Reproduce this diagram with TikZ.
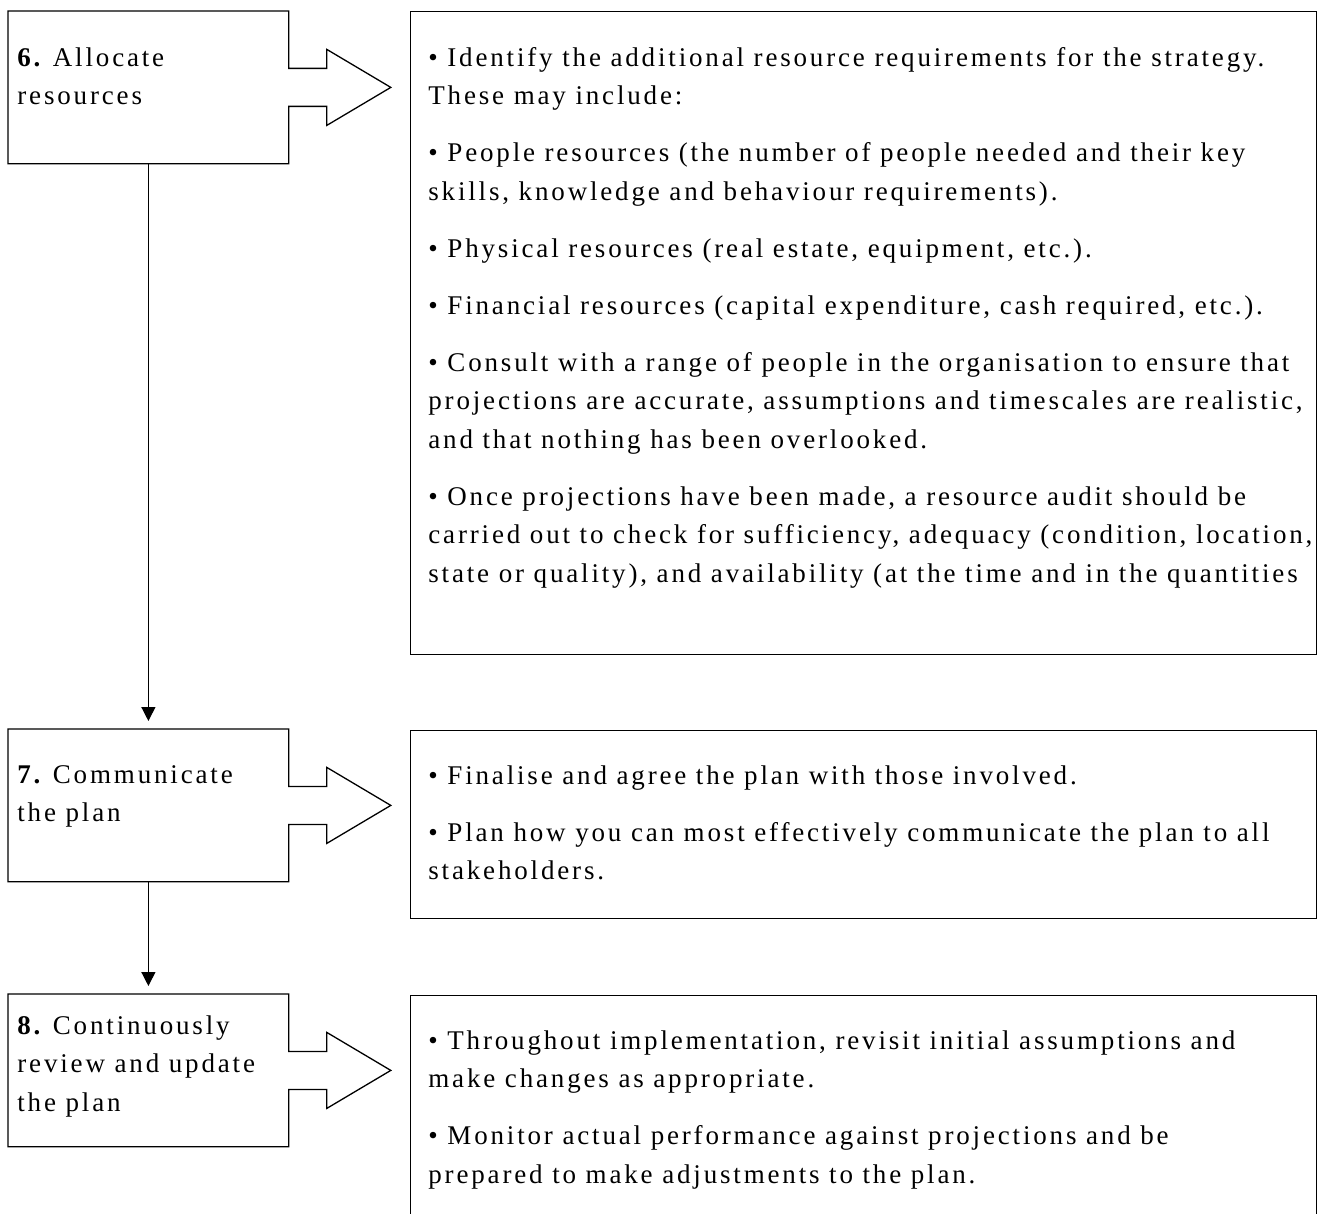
\documentclass[tikz,border=0pt]{standalone}
\usepackage{fontspec}
\setmainfont[LetterSpace=10.5]{Liberation Serif}
\usepackage{tikz}
\usetikzlibrary{arrows.meta,positioning}
\frenchspacing

% outline of a step box with its notched arrow pointing right
\newcommand{\stepoutline}[1]{%
  \draw[line width=0.65pt] ([yshift=9.5pt]#1.east) |- (#1.north west) |- (#1.south east)
    -- ([yshift=-9.5pt]#1.east) -- ++(38,0) -- ++(0,19) -- ++(64,-38) -- ++(-64,-38) -- ++(0,19) -- cycle;}

\begin{document}
\begin{tikzpicture}[
  x=0.5pt, y=-0.5pt,
  every node/.style={font=\fontsize{13.5}{19.25}\selectfont, align=left, inner sep=0pt},
  stepbox/.style={minimum width=140pt, minimum height=76pt, anchor=north west},
  notebox/.style={draw, line width=0.65pt, minimum width=453pt, anchor=north west},
  flow/.style={-{Triangle[width=7pt,length=7pt]}, line width=0.65pt, shorten >=4pt}
]
  \useasboundingbox (0,0) rectangle (1317,1214);
  \clip (0,0) rectangle (1317,1214);

  % Nodes
  \node (step6) [stepbox] at (8,11) {};
  \node (step7) [stepbox] at (8,729) {};
  \node (step8) [stepbox] at (8,994) {};

  \node (res_box) [notebox, minimum height=321.5pt] at (410,11) {};
  \node (comm_box) [notebox, minimum height=94pt] at (410,730) {};
  \node (review_box) [notebox, minimum height=150pt] at (410,995) {};

  \node (step6_text) [anchor=north west] at ([shift={(9,36)}]step6.north west)
    {\textbf{6.} Allocate\\resources};
  \node (step7_text) [anchor=north west] at ([shift={(9,36)}]step7.north west)
    {\textbf{7.} Communicate\\the plan};
  \node (step8_text) [anchor=north west] at ([shift={(9,21)}]step8.north west)
    {\textbf{8.} Continuously\\review and update\\the plan};

  \node (res_text) [anchor=north west] at ([shift={(18,36)}]res_box.north west)
    {• Identify the additional resource requirements for the strategy.\\
     These may include:\\[9.25pt]
     • People resources (the number of people needed and their key\\
     skills, knowledge and behaviour requirements).\\[9.25pt]
     • Physical resources (real estate, equipment, etc.).\\[9.25pt]
     • Financial resources (capital expenditure, cash required, etc.).\\[9.25pt]
     • Consult with a range of people in the organisation to ensure that\\
     projections are accurate, assumptions and timescales are realistic,\\
     and that nothing has been overlooked.\\[9.25pt]
     • Once projections have been made, a resource audit should be\\
     carried out to check for sufficiency, adequacy (condition, location,\\
     state or quality), and availability (at the time and in the quantities};
  \node (comm_text) [anchor=north west] at ([shift={(18,35)}]comm_box.north west)
    {• Finalise and agree the plan with those involved.\\[9.25pt]
     • Plan how you can most effectively communicate the plan to all\\
     stakeholders.};
  \node (review_text) [anchor=north west] at ([shift={(18,35)}]review_box.north west)
    {• Throughout implementation, revisit initial assumptions and\\
     make changes as appropriate.\\[9.25pt]
     • Monitor actual performance against projections and be\\
     prepared to make adjustments to the plan.};

  % Paths
  \stepoutline{step6}
  \stepoutline{step7}
  \stepoutline{step8}

  \draw [flow] (step6) -- (step7);
  \draw [flow] (step7) -- (step8);
\end{tikzpicture}
\end{document}
